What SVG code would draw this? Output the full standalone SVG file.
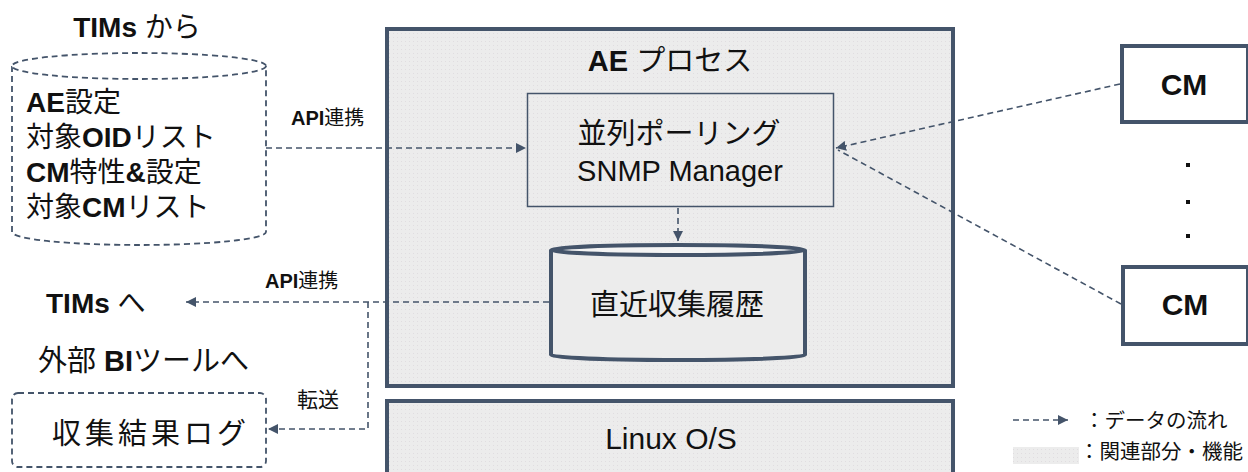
<svg xmlns="http://www.w3.org/2000/svg" width="1248" height="472" viewBox="0 0 1248 472">
<style>
  .t { font-family: "Liberation Sans", "Noto Sans CJK JP", sans-serif; fill: #111; }
  .b { font-weight: bold; }
  .frame { fill: url(#dots); stroke: #44546a; stroke-width: 4; }
  .flow { fill: none; stroke: #44546a; stroke-width: 1.6; stroke-dasharray: 6 4; }
  .ext { fill: #fff; stroke: #44546a; stroke-width: 1.8; stroke-dasharray: 6 4; }
</style>
<defs>
  <pattern id="dots" width="4" height="4" patternUnits="userSpaceOnUse">
    <rect width="4" height="4" fill="#ececec"/>
    <rect x="1" y="1" width="1" height="1" fill="#e0dde0"/>
  </pattern>
  <marker id="arr" viewBox="0 0 10 10" refX="10" refY="5" markerWidth="10" markerHeight="10" markerUnits="userSpaceOnUse" orient="auto">
    <path d="M0,0 L10,5 L0,10 z" fill="#44546a"/>
  </marker>
</defs>

<g id="ae-process">
  <rect class="frame" x="387" y="29" width="566" height="357"/>
  <text class="t" x="670" y="71" font-size="29" text-anchor="middle"><tspan class="b">AE</tspan> プロセス</text>
</g>

<g id="linux">
  <rect class="frame" x="387" y="401" width="566" height="80"/>
  <text class="t" x="671" y="449" font-size="30" text-anchor="middle">Linux O/S</text>
</g>

<g id="snmp">
  <rect x="527.5" y="93.5" width="306" height="113" fill="none" stroke="#44546a" stroke-width="1.5"/>
  <text class="t" x="679" y="144" font-size="29" text-anchor="middle">並列ポーリング</text>
  <text class="t" x="680" y="181" font-size="29" text-anchor="middle">SNMP Manager</text>
</g>

<g id="history">
  <path d="M551,250 L551,355 A127,5 0 0 0 805,355 L805,250" fill="#ececec" stroke="#44546a" stroke-width="4"/>
  <ellipse cx="678" cy="250" rx="127" ry="5" fill="#f4f4f4" stroke="#44546a" stroke-width="4"/>
  <text class="t" x="677" y="315" font-size="29" text-anchor="middle">直近収集履歴</text>
</g>

<g id="tims-in">
  <text class="t" x="137" y="37" font-size="28" text-anchor="middle"><tspan class="b">TIMs</tspan> から</text>
  <path class="ext" d="M12,66 L12,232 A127,13 0 0 0 266,232 L266,66"/>
  <ellipse class="ext" cx="139" cy="66" rx="127" ry="13"/>
  <text class="t" x="26" y="112" font-size="28"><tspan class="b">AE</tspan>設定</text>
  <text class="t" x="26" y="147" font-size="28">対象<tspan class="b">OID</tspan>リスト</text>
  <text class="t" x="26" y="182" font-size="28"><tspan class="b">CM</tspan>特性<tspan class="b">&amp;</tspan>設定</text>
  <text class="t" x="26" y="217" font-size="28">対象<tspan class="b">CM</tspan>リスト</text>
</g>

<g id="tims-out">
  <text class="t" x="46" y="313" font-size="28"><tspan class="b">TIMs</tspan> へ</text>
</g>

<g id="bi-log">
  <text class="t" x="38" y="371" font-size="29">外部 <tspan class="b">BI</tspan>ツールへ</text>
  <rect class="ext" x="12" y="393" width="254" height="74" rx="6"/>
  <text class="t" x="151" y="444" font-size="29" letter-spacing="4" text-anchor="middle">収集結果ログ</text>
</g>

<g id="cm1">
  <rect x="1122" y="46" width="126" height="76" fill="#fff" stroke="#44546a" stroke-width="4"/>
  <text class="t b" x="1184" y="95" font-size="30" text-anchor="middle">CM</text>
</g>
<g id="cm2">
  <rect x="1123" y="267" width="125" height="77" fill="#fff" stroke="#44546a" stroke-width="4"/>
  <text class="t b" x="1185" y="315" font-size="30" text-anchor="middle">CM</text>
</g>
<g id="ellipsis">
  <rect x="1186" y="163" width="4" height="4" fill="#111"/>
  <rect x="1186" y="200" width="4" height="4" fill="#111"/>
  <rect x="1186" y="234" width="4" height="4" fill="#111"/>
</g>

<g id="connectors">
  <line class="flow" x1="266" y1="148" x2="526" y2="148" marker-end="url(#arr)"/>
  <text class="t" x="291" y="125" font-size="20"><tspan class="b">API</tspan>連携</text>
  <line class="flow" x1="678" y1="208" x2="678" y2="241" marker-end="url(#arr)"/>
  <line class="flow" x1="1120" y1="84" x2="836" y2="148" marker-end="url(#arr)" stroke-width="2"/>
  <line class="flow" x1="1121" y1="304" x2="838" y2="150" stroke-width="2"/>
  <line class="flow" x1="549" y1="302" x2="186" y2="302" marker-end="url(#arr)"/>
  <text class="t" x="265" y="288" font-size="20"><tspan class="b">API</tspan>連携</text>
  <path class="flow" d="M368,302 L368,429 L268,429" marker-end="url(#arr)" stroke-width="2"/>
  <text class="t" x="297" y="407" font-size="21">転送</text>
</g>

<g id="legend">
  <line class="flow" x1="1013" y1="420" x2="1068" y2="420" marker-end="url(#arr)" stroke="#666"/>
  <text class="t" x="1084" y="428" font-size="20.5">：データの流れ</text>
  <rect x="1013" y="447" width="66" height="17" fill="url(#dots)"/>
  <text class="t" x="1079" y="459" font-size="20.5">：関連部分・機能</text>
</g>
</svg>
